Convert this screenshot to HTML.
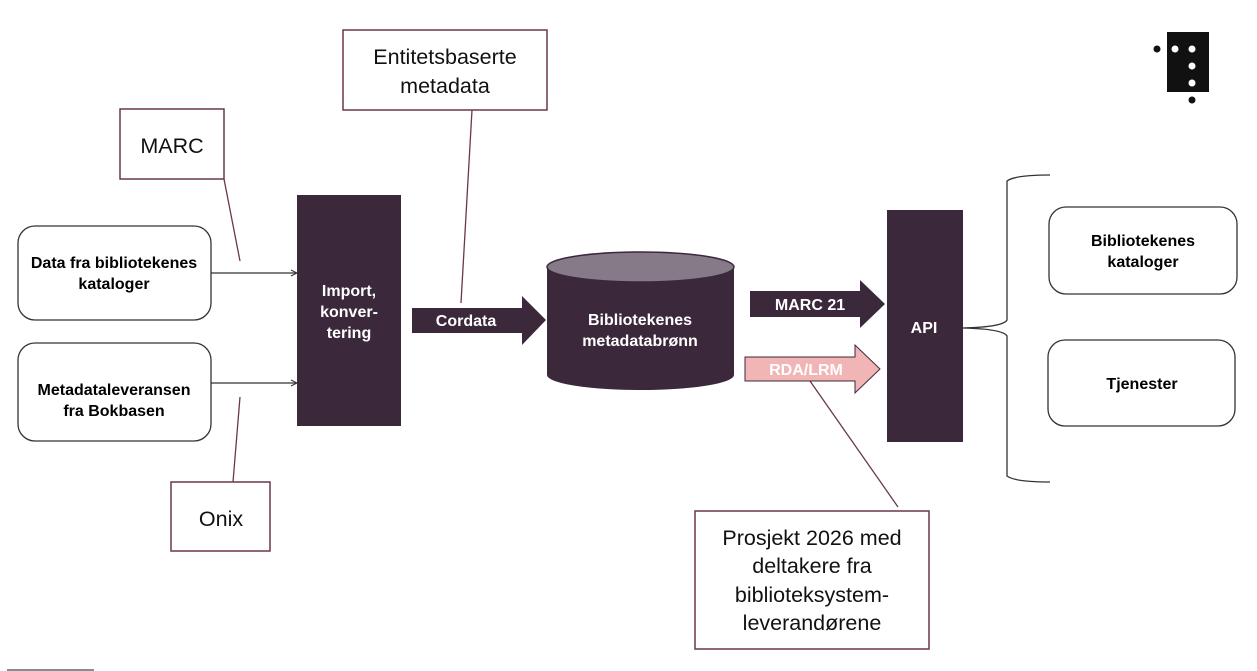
<!DOCTYPE html>
<html>
<head>
<meta charset="utf-8">
<style>
html,body{margin:0;padding:0;background:#fff;}
svg{display:block;}
text{font-family:"Liberation Sans",Arial,sans-serif;}
.b{font-weight:bold;font-size:16px;}
.w{fill:#fff;}
.k{fill:#000;}
.r{font-size:21.5px;fill:#111;}
</style>
</head>
<body>
<svg width="1257" height="671" viewBox="0 0 1257 671" xmlns="http://www.w3.org/2000/svg">
<defs>
<marker id="ah" markerWidth="8" markerHeight="8" refX="7" refY="4" orient="auto" markerUnits="userSpaceOnUse">
<path d="M1,1 L7,4 L1,7" fill="none" stroke="#333" stroke-width="1"/>
</marker>
</defs>

<!-- callout connectors -->
<g stroke="#6a3650" stroke-width="1.3" fill="none">
<line x1="224" y1="179" x2="240" y2="261"/>
<line x1="240" y1="397" x2="233" y2="482"/>
<line x1="472" y1="110" x2="461" y2="303"/>
<line x1="810" y1="381" x2="898" y2="507"/>
</g>

<!-- callout boxes -->
<g stroke="#6a3650" stroke-width="1.5" fill="#fff">
<rect x="343" y="30" width="204" height="80"/>
<rect x="120" y="109" width="104" height="70"/>
<rect x="171" y="482" width="99" height="69"/>
<rect x="695" y="511" width="234" height="138"/>
</g>
<text class="r" x="445" y="64" text-anchor="middle">Entitetsbaserte</text>
<text class="r" x="445" y="93" text-anchor="middle">metadata</text>
<text class="r" x="172" y="153" text-anchor="middle">MARC</text>
<text class="r" x="221" y="526" text-anchor="middle">Onix</text>
<text class="r" x="812" y="545" text-anchor="middle">Prosjekt 2026 med</text>
<text class="r" x="812" y="573" text-anchor="middle">deltakere fra</text>
<text class="r" x="812" y="602" text-anchor="middle">biblioteksystem-</text>
<text class="r" x="812" y="630" text-anchor="middle">leverandørene</text>

<!-- rounded input boxes -->
<g stroke="#333" stroke-width="1.3" fill="#fff">
<rect x="18" y="226" width="193" height="94" rx="17"/>
<rect x="18" y="343" width="193" height="98" rx="17"/>
<rect x="1049" y="207" width="188" height="87" rx="17"/>
<rect x="1048" y="340" width="187" height="86" rx="17"/>
</g>
<text class="b k" x="114" y="268" text-anchor="middle">Data fra bibliotekenes</text>
<text class="b k" x="114" y="289" text-anchor="middle">kataloger</text>
<text class="b k" x="114" y="395" text-anchor="middle">Metadataleveransen</text>
<text class="b k" x="114" y="416" text-anchor="middle">fra Bokbasen</text>
<text class="b k" x="1143" y="246" text-anchor="middle">Bibliotekenes</text>
<text class="b k" x="1143" y="267" text-anchor="middle">kataloger</text>
<text class="b k" x="1142" y="389" text-anchor="middle">Tjenester</text>

<!-- input arrows -->
<g stroke="#333" stroke-width="1.2">
<line x1="211" y1="273" x2="297" y2="273" marker-end="url(#ah)"/>
<line x1="211" y1="383" x2="297" y2="383" marker-end="url(#ah)"/>
</g>

<!-- Import box -->
<rect x="297" y="195" width="104" height="231" fill="#3b283b"/>
<text class="b w" x="349" y="296" text-anchor="middle">Import,</text>
<text class="b w" x="349" y="317" text-anchor="middle">konver-</text>
<text class="b w" x="349" y="338" text-anchor="middle">tering</text>

<!-- Cordata arrow -->
<path d="M412,308 L522,308 L522,296 L546,320 L522,345 L522,333 L412,333 Z" fill="#3b283b"/>
<text class="b w" x="466" y="326" text-anchor="middle">Cordata</text>

<!-- Cylinder -->
<path d="M547,267 L547,375 A93.5,15 0 0 0 734,375 L734,267 Z" fill="#3b283b"/>
<ellipse cx="640.5" cy="267" rx="93.5" ry="15" fill="#867a88" stroke="#3b283b" stroke-width="1.5"/>
<text class="b w" x="640" y="325" text-anchor="middle">Bibliotekenes</text>
<text class="b w" x="640" y="346" text-anchor="middle">metadatabrønn</text>

<!-- MARC 21 arrow -->
<path d="M750,291 L860,291 L860,280 L885,304 L860,328 L860,317 L750,317 Z" fill="#3b283b"/>
<text class="b w" x="810" y="310" text-anchor="middle">MARC 21</text>

<!-- RDA/LRM arrow -->
<path d="M745,357 L855,357 L855,345 L880,369 L855,393 L855,381 L745,381 Z" fill="#f2b5b5" stroke="#3b283b" stroke-width="1"/>
<text class="b w" x="806" y="375" text-anchor="middle">RDA/LRM</text>

<!-- API -->
<rect x="887" y="210" width="76" height="232" fill="#3b283b"/>
<text class="b w" x="924" y="333" text-anchor="middle">API</text>

<!-- Brace -->
<path d="M1050,175 Q1015,175 1007,181 L1007,320 Q1003,327 963,328 Q1003,329 1007,336 L1007,476 Q1015,482 1050,482" fill="none" stroke="#333" stroke-width="1.3"/>

<!-- Logo -->
<rect x="1167" y="32" width="42" height="60" fill="#111"/>
<circle cx="1157" cy="49" r="3.5" fill="#111"/>
<circle cx="1175" cy="49" r="3.5" fill="#fff"/>
<circle cx="1192" cy="49" r="3.5" fill="#fff"/>
<circle cx="1192" cy="66" r="3.5" fill="#fff"/>
<circle cx="1192" cy="83" r="3.5" fill="#fff"/>
<circle cx="1192" cy="100" r="3.5" fill="#111"/>

<!-- bottom line -->
<line x1="7" y1="670" x2="94" y2="670" stroke="#666" stroke-width="1.5"/>
</svg>
</body>
</html>
